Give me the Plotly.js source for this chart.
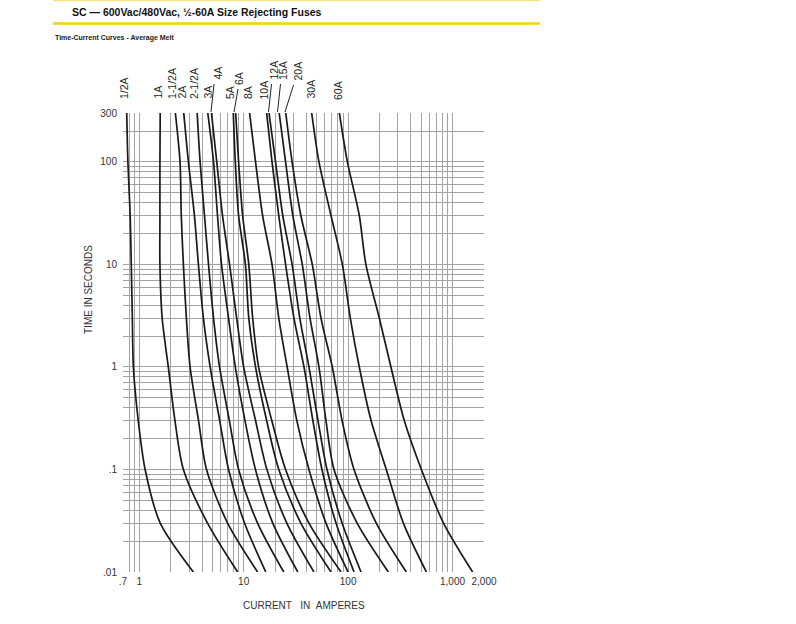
<!DOCTYPE html>
<html><head><meta charset="utf-8">
<script src="https://cdn.plot.ly/plotly-3.0.1.min.js"></script>
<style>html,body{margin:0;padding:0;background:#fff}#chart{width:796px;height:624px}</style>
</head><body><div id="chart"></div>
<script>
// ---- data ----
const times = [300, 100, 30, 10, 3, 1, 0.3, 0.1, 0.03, 0.01];
const fuseNames = ['1/2A','1A','1-1/2A','2A','2-1/2A','3A','4A','5A','6A','8A','10A','12A','15A','20A','30A','60A'];
const amps_0_5A = [0.76, 0.78, 0.82, 0.84, 0.86, 0.88, 0.98, 1.14, 1.59, 3.3];
const amps_1A   = [1.59, 1.58, 1.58, 1.58, 1.66, 1.9, 2.2, 2.65, 4.51, 8.76];
const amps_1_5A = [2.22, 2.46, 2.53, 2.65, 2.83, 3.07, 3.7, 4.41, 7.02, 13.6];
const amps_2A   = [2.67, 2.96, 3.38, 3.69, 4.12, 4.78, 5.9, 7.17, 10.2, 16.3];
const amps_2_5A = [3.59, 3.83, 4.22, 4.61, 5.15, 5.88, 7.3, 8.95, 13.6, 24.2];
const amps_3A   = [4.54, 5.15, 5.62, 6.14, 7.17, 8.32, 10.3, 12.97, 19.0, 33];
const amps_4A   = [4.92, 5.53, 6.28, 7.33, 8.57, 10, 13, 16.7, 25.9, 47.1];
const amps_5A   = [7.96, 8.32, 8.95, 10.4, 11.2, 13, 16.6, 21.7, 35.3, 68.6];
const amps_6A   = [8.38, 8.95, 9.78, 11.2, 12.2, 13.9, 18.6, 25.2, 42.2, 85.6];
const amps_8A   = [11.4, 13, 15.2, 18.7, 21.7, 26.1, 32.3, 42.2, 61.4, 100];
const amps_10A  = [16.6, 18.7, 21.7, 25.2, 30.3, 37.8, 46.0, 56.2, 76.6, 114];
const amps_12A  = [17.5, 20.2, 23.7, 29.1, 34.5, 42.2, 51.5, 62.8, 87.6, 133];
const amps_15A  = [21.9, 25.2, 29.6, 36.4, 43.2, 52.6, 61.4, 73.3, 122, 243];
const amps_20A  = [25.3, 29.1, 35.3, 45.4, 55, 70.6, 87.6, 114, 186, 361];
const amps_30A  = [44.8, 52.6, 68.6, 88.1, 105, 128, 166, 232, 338, 562];
const amps_60A  = [82.5, 98.5, 128, 148, 199, 257, 345, 503, 819, 1556];
const ampSeries = [amps_0_5A, amps_1A, amps_1_5A, amps_2A, amps_2_5A, amps_3A, amps_4A, amps_5A,
                   amps_6A, amps_8A, amps_10A, amps_12A, amps_15A, amps_20A, amps_30A, amps_60A];

const xTickVals = [0.7, 1, 10, 100, 1000, 2000];
const xTickText = ['.7', '1', '10', '100', '1,000', '2,000'];
const yTickVals = [0.01, 0.1, 1, 10, 100, 300];
const yTickText = ['.01', '.1', '1', '10', '100', '300'];

// ---- layout geometry (pixels) ----
const W = 796, H = 624, L = 123, R = 484, T = 113, B = 572;
const px = x => (x - L) / (R - L);
const py = y => (B - y) / (B - T);

// grid positions (log grid)
const xGrid = [0.8, 0.9];
[1, 10, 100].forEach(d => { for (let k = 2; k <= 9; k++) xGrid.push(k * d); });
const yGrid = [];
[0.01, 0.1, 1, 10].forEach(d => { for (let k = 2; k <= 9; k++) yGrid.push(k * d); });
yGrid.push(200);

const traces = ampSeries.map((a, i) => ({
  x: a, y: times, name: fuseNames[i], type: 'scatter', mode: 'lines',
  line: {color: '#1a1a1a', width: 1.7, shape: 'spline', smoothing: 0.8},
  hoverinfo: 'name+x+y', showlegend: false, cliponaxis: true
}));

// fuse labels above the chart: [center x px, bottom y px, leader line or null]
const labelPos = [
  [124, 101, null], [157, 101, null], [171.5, 101, null], [181, 101, null], [193.5, 101, null],
  [207, 101, null], [217, 82, [214, 84, 211, 112]], [229.5, 101, null], [239.5, 87, [238, 89, 234, 112]],
  [247.5, 101, null], [263, 102, null], [273, 82, [271.5, 84, 268.5, 112]], [282.5, 82, [280.5, 84, 277.5, 112]],
  [297, 83, [293.5, 85, 285, 112]], [310, 101, null], [337.5, 102, null]
];

const labelFont = {family: 'Liberation Sans, Arial, sans-serif', size: 10.5, color: '#1e1e1e'};
const annotations = fuseNames.map((n, i) => ({
  text: n, xref: 'paper', yref: 'paper', x: px(labelPos[i][0]), y: py(labelPos[i][1]),
  xanchor: 'center', yanchor: 'bottom', textangle: -90, showarrow: false, font: labelFont
}));
annotations.push(
  {text: '<b>SC — 600Vac/480Vac, ½-60A Size Rejecting Fuses</b>', xref: 'paper', yref: 'paper',
   x: px(70), y: py(12.5), xanchor: 'left', yanchor: 'middle', showarrow: false,
   font: {family: 'Liberation Sans, Arial, sans-serif', size: 10.5, color: '#111'}},
  {text: '<b>Time-Current Curves - Average Melt</b>', xref: 'paper', yref: 'paper',
   x: px(53), y: py(37.5), xanchor: 'left', yanchor: 'middle', showarrow: false,
   font: {family: 'Liberation Sans, Arial, sans-serif', size: 7, color: '#222'}},
  {text: 'TIME IN SECONDS', xref: 'paper', yref: 'paper', x: px(88), y: py(290),
   xanchor: 'center', yanchor: 'middle', textangle: -90, showarrow: false,
   font: {family: 'Liberation Sans, Arial, sans-serif', size: 10, color: '#333'}},
  {text: 'CURRENT\u00a0\u00a0\u00a0IN\u00a0\u00a0AMPERES', xref: 'paper', yref: 'paper', x: px(303.5), y: py(605),
   xanchor: 'center', yanchor: 'middle', showarrow: false,
   font: {family: 'Liberation Sans, Arial, sans-serif', size: 10, color: '#333'}}
);

const shapes = [];
labelPos.forEach(p => {
  if (p[2]) shapes.push({type: 'line', xref: 'paper', yref: 'paper',
    x0: px(p[2][0]), y0: py(p[2][1]), x1: px(p[2][2]), y1: py(p[2][3]),
    line: {color: '#222', width: 1}});
});
shapes.push(
  {type: 'line', xref: 'paper', yref: 'paper', x0: px(53), x1: px(540), y0: py(23.5), y1: py(23.5),
   line: {color: '#f2d400', width: 2.5}},
  {type: 'line', xref: 'paper', yref: 'paper', x0: px(53), x1: px(540), y0: py(0.6), y1: py(0.6),
   line: {color: '#f7e47a', width: 1.5}}
);

const gridColor = '#a3a3a3';
const tickFont = {family: 'Liberation Sans, Arial, sans-serif', size: 10, color: '#333'};
const layout = {
  width: W, height: H,
  margin: {l: L, r: W - R, t: T, b: H - B, pad: 0},
  paper_bgcolor: '#fff', plot_bgcolor: '#fff',
  showlegend: false,
  xaxis: {
    type: 'log', range: [Math.log10(0.7), Math.log10(2000)],
    tickmode: 'array', tickvals: xTickVals, ticktext: xTickText,
    showgrid: true, gridcolor: gridColor, gridwidth: 1,
    zeroline: false, showline: false, ticks: '', tickfont: tickFont, ticklabelstandoff: 2,
    minor: {tickmode: 'array', tickvals: xGrid, showgrid: true, gridcolor: gridColor, gridwidth: 1, ticks: ''},
    fixedrange: true
  },
  yaxis: {
    type: 'log', range: [-2, Math.log10(300)],
    tickmode: 'array', tickvals: yTickVals, ticktext: yTickText,
    showgrid: true, gridcolor: gridColor, gridwidth: 1,
    zeroline: false, showline: false, ticks: '', tickfont: tickFont, ticklabelstandoff: 5,
    minor: {tickmode: 'array', tickvals: yGrid, showgrid: true, gridcolor: gridColor, gridwidth: 1, ticks: ''},
    fixedrange: true
  },
  annotations: annotations,
  shapes: shapes
};

Plotly.newPlot('chart', traces, layout, {displayModeBar: false, staticPlot: true});
</script>
</body></html>
